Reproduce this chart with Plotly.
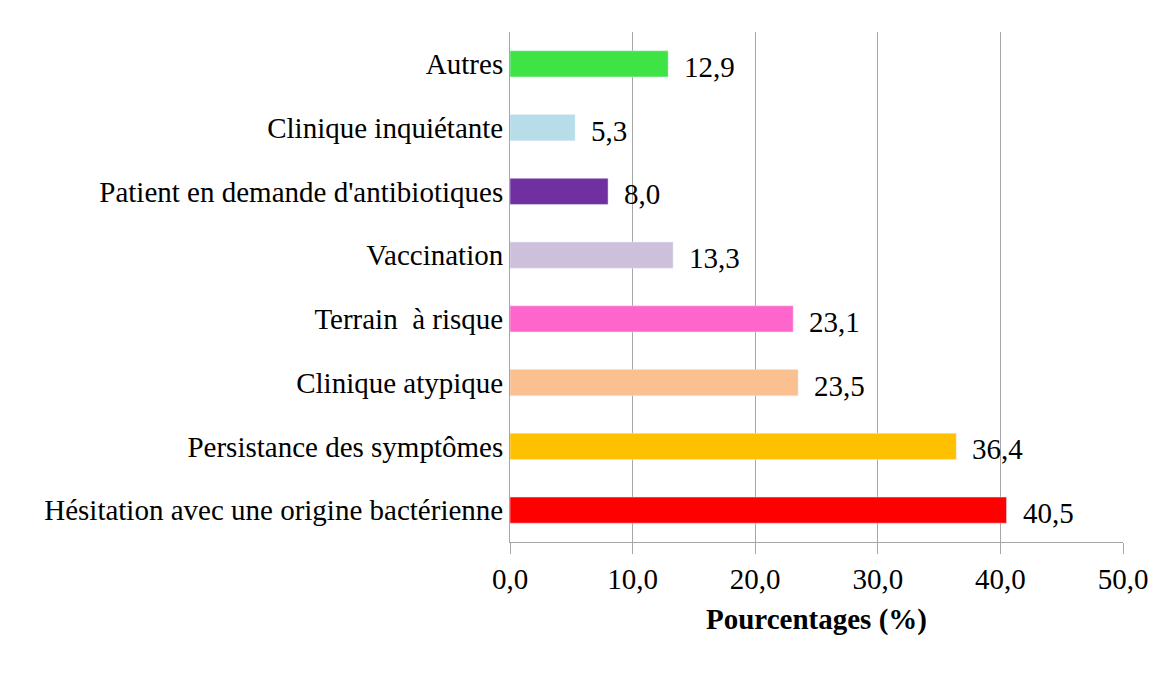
import plotly.graph_objects as go

categories = [
    "Hésitation avec une origine bactérienne",
    "Persistance des symptômes",
    "Clinique atypique",
    "Terrain  à risque",
    "Vaccination",
    "Patient en demande d'antibiotiques",
    "Clinique inquiétante",
    "Autres",
]
values = [40.5, 36.4, 23.5, 23.1, 13.3, 8.0, 5.3, 12.9]
colors = ["#FF0000", "#FFC000", "#FAC090", "#FF66CC", "#CCC0DA", "#7030A0", "#B7DEE8", "#3EE346"]
x_ticks = [0, 10, 20, 30, 40, 50]

FONT = "Liberation Serif"
FS = 29

fig = go.Figure()
fig.add_trace(go.Bar(
    x=values, y=categories, orientation="h",
    marker=dict(color=colors),
    width=0.41, showlegend=False,
))

for v, c in zip(values, categories):
    fig.add_annotation(
        x=v, y=c, xref="x", yref="y",
        text=f"{v:.1f}".replace(".", ","),
        showarrow=False, xanchor="left", yanchor="middle",
        xshift=14, yshift=-3,
        font=dict(family=FONT, size=FS, color="#000000"),
    )

fig.update_layout(
    width=1174, height=678,
    margin=dict(l=502, r=59, t=24, b=144),
    paper_bgcolor="white", plot_bgcolor="white",
    separators=", ",
    xaxis=dict(
        range=[0, 50], tickvals=x_ticks, tickformat=".1f",
        showgrid=True, gridcolor="#A6A6A6",
        showline=True, linecolor="#A6A6A6",
        ticks="outside", ticklen=11, tickcolor="#A6A6A6",
        tickfont=dict(family=FONT, size=FS, color="#000000"),
        title=dict(text="<b>Pourcentages (%)</b>", standoff=14,
                   font=dict(family=FONT, size=FS, color="#000000")),
    ),
    yaxis=dict(
        categoryorder="array", categoryarray=categories,
        showline=True, linecolor="#A6A6A6",
        tickfont=dict(family=FONT, size=FS, color="#000000"),
    ),
    bargap=0.59,
)

fig.write_html("out.html")
